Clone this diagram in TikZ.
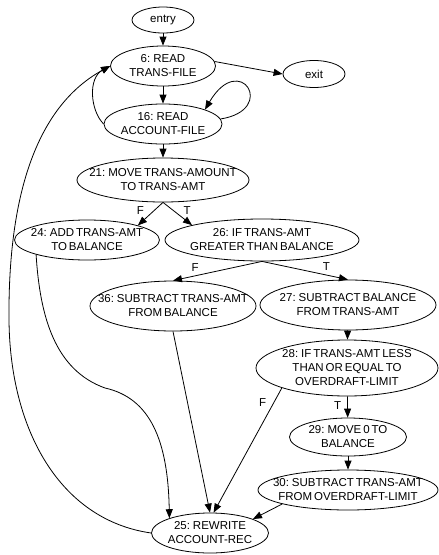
\documentclass[tikz,border=0pt]{standalone}
\usepackage{fontspec}
\setmainfont{Liberation Sans}[WordSpace=0.6]
\usetikzlibrary{arrows.meta,shapes.geometric}

\begin{document}
\begin{tikzpicture}[
  x=1pt, y=-1pt, line width=0.8pt,
  font=\fontsize{11.5}{14}\selectfont,
  stmt/.style n args={3}{draw, ellipse, inner sep=0pt, minimum width=#1, minimum height=#2,
    label={[align=center, inner sep=0pt]center:{#3}}},
  lab/.style={inner sep=1pt},
  >={Triangle[length=9pt, width=7pt]}]
  \useasboundingbox (0,0) rectangle (439,555);
  % statements
  \node[stmt={62pt}{26pt}{entry}] (entry) at (163,20) {};
  \node[stmt={105pt}{40pt}{6: READ\\TRANS-FILE}] (n6) at (163,66) {};
  \node[stmt={62pt}{27pt}{exit}] (exit) at (314,74) {};
  \node[stmt={118pt}{40pt}{16: READ\\ACCOUNT-FILE}] (n16) at (163,124) {};
  \node[stmt={172pt}{44pt}{21: MOVE TRANS-AMOUNT\\TO TRANS-AMT}] (n21) at (163,180) {};
  \node[stmt={145pt}{40pt}{24: ADD TRANS-AMT\\TO BALANCE}] (n24) at (87,240) {};
  \node[stmt={194pt}{42pt}{26: IF TRANS-AMT\\GREATER THAN BALANCE}] (n26) at (262,240) {};
  \node[stmt={166pt}{50pt}{36: SUBTRACT TRANS-AMT\\FROM BALANCE}] (n36) at (173,306) {};
  \node[stmt={176pt}{50pt}{27: SUBTRACT BALANCE\\FROM TRANS-AMT}] (n27) at (348,305) {};
  \node[stmt={182pt}{56pt}{28: IF TRANS-AMT LESS\\THAN OR EQUAL TO\\OVERDRAFT-LIMIT}] (n28) at (347,368) {};
  \node[stmt={117pt}{38pt}{29: MOVE 0 TO\\BALANCE}] (n29) at (348,437) {};
  \node[stmt={180pt}{40pt}{30: SUBTRACT TRANS-AMT\\FROM OVERDRAFT-LIMIT}] (n30) at (348,490) {};
  \node[stmt={117pt}{40pt}{25: REWRITE\\ACCOUNT-REC}] (n25) at (210,533) {};
  % control flow
  \draw[->] (entry) -- (n6);
  \draw[->] (n6.5) -- (exit.west);
  \draw[->] (n6) -- (n16);
  \draw[->] (n16.5) .. controls (278,110) and (240,50) .. (n16.north east);
  \draw[->] (n16.west) .. controls (90,110) and (88,78) .. (n6.west);
  \draw[->] (n16) -- (n21);
  \draw[->] (n21.south) -- node[lab, pos=.35, left=9pt] {F} (n24.16);
  \draw[->] (n21.south) -- node[lab, pos=.35, right=9pt] {T} (n26.168);
  \draw[->] (n26.south) -- node[lab, pos=.75, above=3pt] {F} (n36.north);
  \draw[->] (n26.south) -- node[lab, pos=.75, above=3pt] {T} (n27.north);
  \draw[->] (n27) -- (n28);
  \draw[->] (n28) -- node[lab, pos=.45, left=5pt] {T} (n29);
  \draw[->] (n28.197) -- node[lab, pos=.12, left=6pt] {F} (n25.80);
  \draw[->] (n29) -- (n30);
  \draw[->] (n30.192) -- (n25.18);
  \draw[->] (n36.south) -- (n25.north);
  \draw[->] (n24.196) .. controls (40,317) and (55,370) .. (105,388)
    .. controls (150,398) and (168,440) .. (n25.160);
  \draw[->] (n25.west) .. controls (60,520) and (10,430) .. (9,320)
    .. controls (8,210) and (30,110) .. (n6.west);
\end{tikzpicture}
\end{document}
